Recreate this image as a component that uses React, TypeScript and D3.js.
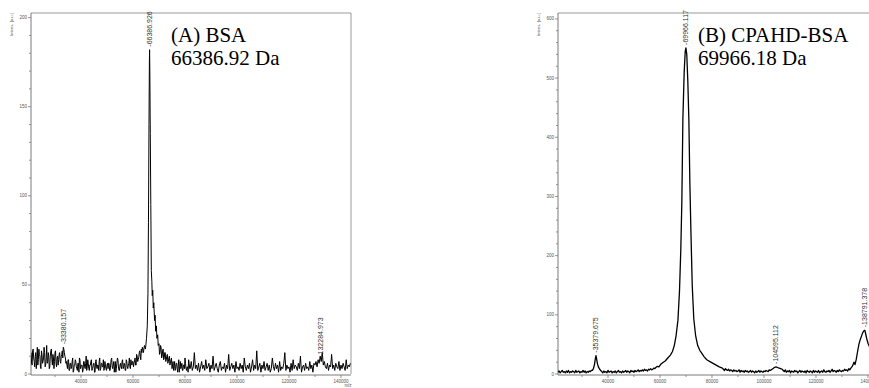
import React from 'react';
import * as d3 from 'd3';

// ---------- Data: (A) BSA ----------
const bsaSampleStart = 20800;
const bsaSampleStep = 400;
// 20800 .. 63600 (noisy baseline, small bump near 33380, rise before main peak)
const bsaBaseline = [
  12, 5, 14, 7, 10, 3, 15, 8, 11, 4, 13, 6, 9, 12, 5, 16, 7, 10, 4, 13, 8, 11, 3, 12, 6, 9, 5, 11, 7, 10, 13, 15, 12, 9,
  7, 3, 8, 2, 6, 4, 9, 2, 5, 7, 3, 6, 1, 8, 4, 5, 2, 7, 3, 10, 4, 6, 2, 5, 8, 3, 6, 1, 7, 4, 5, 2, 9, 3, 6, 4, 2, 7, 3, 5,
  3, 6, 2, 8, 4, 5, 1, 7, 3, 9, 4, 2, 6, 3, 8, 4, 5, 2, 7, 3, 6, 4, 8, 5, 7,
  6, 9, 5, 10, 8, 12, 10, 14, 15,
];
// 21000 .. 63800 (readings between the samples above)
const bsaBaselineMidStart = 21000;
const bsaBaselineMid = [
  6, 13, 9, 4, 12, 8, 5, 14, 10, 3, 11, 7, 15, 4, 9, 6, 12, 3, 10, 14, 5, 9, 7, 13, 4, 10, 8, 12, 6, 11, 9, 14, 10, 6,
  5, 8, 2, 6, 3, 7, 1, 5, 8, 4, 2, 6, 9, 3, 5, 1, 7, 4, 6, 2, 8, 3, 5, 7, 2, 4, 6, 1, 8, 3, 5, 7, 2, 6, 4, 8, 3, 5, 2, 6,
  6, 2, 5, 9, 3, 7, 4, 1, 6, 8, 2, 5, 4, 7, 3, 6, 2, 8, 4, 5, 9, 3, 6, 7, 4,
  8, 5, 11, 7, 9, 13, 8, 12, 14,
];
// main peak (m/z, intensity)
const bsaPeak: [number, number][] = [
  [64000, 12], [64400, 16], [64800, 14], [65200, 20], [65500, 27], [65750, 45], [65950, 85], [66150, 140],
  [66300, 175], [66386.926, 182], [66480, 170], [66650, 135], [66850, 95], [67050, 58], [67250, 52], [67400, 44],
  [67600, 47], [67800, 37], [68000, 40], [68300, 30], [68500, 33], [68700, 24], [69000, 27], [69200, 20], [69500, 22], [69700, 16],
];
const bsaTailStart = 70000;
// 70000 .. 143600
const bsaTail = [
  17, 12, 15, 10, 14, 9, 12, 8, 11, 7, 10, 6, 9,
  5, 2, 7, 3, 6, 1, 8, 4, 3, 6,
  2, 5, 9, 3, 4, 1, 6, 3, 7, 2,
  4, 12, 3, 5, 2, 6, 1, 4, 7, 3,
  5, 2, 8, 3, 4, 6, 1, 5, 3, 10,
  2, 4, 6, 3, 1, 5, 7, 2, 4, 3,
  6, 1, 5, 3, 11, 2, 4, 6, 3, 5,
  1, 7, 3, 4, 2, 6, 3, 5, 1, 9,
  4, 2, 5, 3, 6, 1, 4, 8, 2, 5,
  3, 13, 2, 4, 6, 1, 5, 3, 7, 2,
  4, 6, 2, 5, 1, 3, 9, 4, 2, 6,
  3, 5, 1, 7, 2, 4, 3, 6, 12, 2,
  5, 3, 4, 1, 6, 2, 8, 3, 5, 4,
  2, 6, 3, 10, 1, 4, 5, 2, 6, 3,
  4, 2, 7, 3, 5, 1, 6,
  5, 7, 4, 8, 6, 10, 7, 12, 5, 7, 4,
  3, 6, 2, 5, 4, 11, 3, 5, 2, 6, 4, 3, 7, 2, 5, 3, 6, 4, 2, 8, 3, 5, 4, 6,
];
// 70200 .. 81800 (readings between the tail samples)
const bsaTailMidStart = 70200;
const bsaTailMid = [11, 16, 9, 13, 8, 12, 7, 10, 6, 9, 5, 8, 3, 7, 4, 2, 6, 3, 5, 1, 7, 4, 2, 5, 3, 6, 2, 4, 8, 3];
const bsaLabelMz = [33380.157, 66386.926, 132284.973];
const bsaLabelHeight = [15, 182, 8];

// ---------- Data: (B) CPAHD-BSA ----------
const cpStep = 400;
const cpStartA = 20800;
const cpBaseA = [3, 5, 2, 4, 6, 3, 4, 2, 5, 3, 6, 2, 4, 3, 5, 4, 2, 6, 3, 4, 5, 2, 4, 3, 6, 3, 5, 2, 4, 3, 5, 4, 6];
const cpBump1: [number, number][] = [
  [34000, 6], [34400, 9], [34800, 16], [35100, 25], [35379.675, 31], [35600, 26], [35900, 18], [36300, 12], [36800, 8], [37200, 6],
];
const cpStartB = 37600;
const cpBaseB = [
  4, 2, 5, 3, 4, 2, 6, 3, 4, 5, 2, 4, 3, 5, 2, 4, 6, 3, 4, 2, 5, 3, 4, 6, 3, 5, 4, 2, 6, 4,
  5, 3, 6, 4, 5, 7, 4, 6, 5, 7, 5, 8, 6, 7, 5, 8, 7, 9, 7, 8, 10, 9,
];
const cpMainPeak: [number, number][] = [
  [58400, 11], [59000, 13], [59600, 12], [60200, 16], [61000, 19], [62000, 22], [63000, 27], [64000, 32],
  [64800, 38], [65500, 48], [66200, 65], [66900, 91], [67500, 140], [68000, 210], [68400, 290], [68800, 430],
  [69300, 510], [69700, 545], [69966.117, 551], [70300, 540], [70700, 495], [71100, 430], [71500, 320],
  [71900, 240], [72400, 150], [73000, 93], [73700, 65], [74500, 48], [75300, 40], [76100, 35], [77000, 29],
  [78000, 24], [79200, 21], [80400, 18], [81600, 15], [82800, 12], [84000, 10],
];
const cpStartC = 84400;
const cpBaseC = [
  8, 6, 9, 7, 6, 8, 5, 7, 6, 4, 7, 5, 6, 4, 5, 7, 3, 6, 4, 5, 3, 6, 4, 5, 3, 4, 6, 3, 5, 4,
  2, 5, 3, 4, 6, 3, 5, 4, 3, 5, 4, 6, 5, 4, 7, 6,
];
const cpBump2: [number, number][] = [
  [102800, 7], [103400, 9], [104000, 11], [104595.112, 12], [105200, 11], [105800, 10], [106400, 9], [107000, 8],
];
const cpStartD = 107400;
const cpBaseD = [
  6, 4, 7, 3, 5, 4, 6, 2, 5, 4, 3, 6, 4, 5, 2, 4, 6, 3, 5, 4, 3, 5, 2, 6, 4, 3, 5, 4, 2, 6,
  3, 5, 4, 3, 6, 2, 4, 5, 3, 7, 4, 3, 5, 4, 6, 3, 5, 8, 4, 6, 5, 3, 6, 4, 7, 5, 4, 6, 5, 8,
  6, 7, 5, 9, 7, 10, 12, 15, 20,
];
const cpEndPeak: [number, number][] = [
  [135000, 16], [135500, 25], [136000, 38], [136500, 50], [137000, 58], [137500, 64], [138000, 70],
  [138400, 73], [138791.378, 74], [139100, 68], [139500, 60], [140000, 52], [140500, 47], [141000, 43],
  [142000, 38], [143000, 34], [143800, 31],
];
const cpLabelMz = [35379.675, 69966.117, 104595.112, 138791.378];
const cpLabelHeight = [31, 551, 12, 74];

// ---------- Axis ticks ----------
const xMajorTicks = [40000, 60000, 80000, 100000, 120000, 140000];
const xMinorTicks = [30000, 50000, 70000, 90000, 110000, 130000];

function sampled(start: number, step: number, vals: number[]): [number, number][] {
  return vals.map((v, i) => [start + i * step, v] as [number, number]);
}

const byMz = (a: [number, number], b: [number, number]) => a[0] - b[0];

const bsaSpectrum: [number, number][] = [
  ...sampled(bsaSampleStart, bsaSampleStep, bsaBaseline),
  ...sampled(bsaBaselineMidStart, bsaSampleStep, bsaBaselineMid),
  ...bsaPeak,
  ...sampled(bsaTailStart, bsaSampleStep, bsaTail),
  ...sampled(bsaTailMidStart, bsaSampleStep, bsaTailMid),
].sort(byMz);
const cpSpectrum: [number, number][] = [
  ...sampled(cpStartA, cpStep, cpBaseA),
  ...cpBump1,
  ...sampled(cpStartB, cpStep, cpBaseB),
  ...cpMainPeak,
  ...sampled(cpStartC, cpStep, cpBaseC),
  ...cpBump2,
  ...sampled(cpStartD, cpStep, cpBaseD),
  ...cpEndPeak,
].sort(byMz);

const X_DOMAIN: [number, number] = [20770, 143850];
const TOP = 13;
const BOTTOM = 374;
const PW = 320;

interface PanelDef {
  id: string;
  left: number;
  yTop: number;
  yMajor: number[];
  yMinor: number[];
  data: [number, number][];
  labelMz: number[];
  labelH: number[];
  title: string;
  mass: string;
  titleX: number;
  lineWidth: number;
}

const range = (a: number, b: number, s: number) => d3.range(a, b + 0.001, s);

const panels: PanelDef[] = [
  {
    id: 'A',
    left: 31,
    yTop: 202.6,
    yMajor: range(0, 200, 50),
    yMinor: range(0, 200, 10).filter((v) => v % 50 !== 0),
    data: bsaSpectrum,
    labelMz: bsaLabelMz,
    labelH: bsaLabelHeight,
    title: '(A) BSA',
    mass: '66386.92 Da',
    titleX: 171,
    lineWidth: 1,
  },
  {
    id: 'B',
    left: 558,
    yTop: 610,
    yMajor: range(0, 600, 100),
    yMinor: range(0, 600, 20).filter((v) => v % 100 !== 0),
    data: cpSpectrum,
    labelMz: cpLabelMz,
    labelH: cpLabelHeight,
    title: '(B) CPAHD-BSA',
    mass: '69966.18 Da',
    titleX: 698,
    lineWidth: 1.3,
  },
];

const axisColor = '#7a7a7a';
const tickText = '#555';
const sans = 'Liberation Sans, Arial, sans-serif';

function Panel({ p }: { p: PanelDef }) {
  const x = d3.scaleLinear().domain(X_DOMAIN).range([p.left, p.left + PW]);
  const y = d3.scaleLinear().domain([0, p.yTop]).range([BOTTOM, TOP]);
  const line = d3
    .line<[number, number]>()
    .x((d) => x(d[0]))
    .y((d) => y(d[1]));
  const right = p.left + PW;
  return (
    <g>
      <clipPath id={`clip${p.id}`}>
        <rect x={p.left} y={TOP} width={PW} height={BOTTOM - TOP} />
      </clipPath>
      {/* frame */}
      <line x1={p.left} x2={right} y1={TOP} y2={TOP} stroke="#9a9a9a" strokeWidth={1} />
      <line x1={right} x2={right} y1={TOP} y2={BOTTOM} stroke="#9a9a9a" strokeWidth={1} />
      <line x1={p.left} x2={p.left} y1={TOP} y2={BOTTOM + 1} stroke={axisColor} strokeWidth={1} />
      <line x1={p.left} x2={right} y1={BOTTOM + 1} y2={BOTTOM + 1} stroke={axisColor} strokeWidth={1} />
      {/* y ticks */}
      {p.yMinor.map((v) => (
        <line key={`ym${v}`} x1={p.left - 2} x2={p.left} y1={y(v)} y2={y(v)} stroke={axisColor} strokeWidth={0.8} />
      ))}
      {p.yMajor.map((v) => (
        <g key={`yM${v}`}>
          <line x1={p.left - 3} x2={p.left} y1={y(v)} y2={y(v)} stroke={axisColor} strokeWidth={0.8} />
          <text x={p.left - 4} y={y(v) + 1.5} fontSize={4.5} fill={tickText} textAnchor="end" fontFamily={sans}>
            {v}
          </text>
        </g>
      ))}
      {/* x ticks */}
      {xMinorTicks.map((v) => (
        <line key={`xm${v}`} x1={x(v)} x2={x(v)} y1={BOTTOM + 1} y2={BOTTOM + 3} stroke={axisColor} strokeWidth={0.8} />
      ))}
      {xMajorTicks.map((v) => (
        <g key={`xM${v}`}>
          <line x1={x(v)} x2={x(v)} y1={BOTTOM + 1} y2={BOTTOM + 4} stroke={axisColor} strokeWidth={0.8} />
          <text x={x(v)} y={BOTTOM + 9} fontSize={4.5} fill={tickText} textAnchor="middle" fontFamily={sans}>
            {v}
          </text>
        </g>
      ))}
      <text x={right - 3} y={BOTTOM + 13} fontSize={4.5} fill={tickText} textAnchor="middle" fontFamily={sans}>
        m/z
      </text>
      {/* y label */}
      <text
        transform={`translate(${p.left - 18},${TOP}) rotate(-90)`}
        fontSize={4.2}
        fill={tickText}
        textAnchor="end"
        fontFamily={sans}
      >
        Intens. [a.u.]
      </text>
      {/* spectrum */}
      <path
        d={line(p.data) || ''}
        fill="none"
        stroke="#000"
        strokeWidth={p.lineWidth}
        strokeLinejoin="round"
        clipPath={`url(#clip${p.id})`}
      />
      {/* peak labels */}
      {p.labelMz.map((m, i) => (
        <text
          key={`pl${m}`}
          transform={`translate(${x(m) + 2.3},${y(p.labelH[i]) - 3}) rotate(-90)`}
          fontSize={7}
          fill="#333"
          fontFamily={sans}
        >
          {`-${m.toFixed(3)}`}
        </text>
      ))}
      {/* annotation */}
      <text x={p.titleX} y={41.7} fontSize={21} fontFamily="Liberation Serif, Times New Roman, serif" fill="#000">
        {p.title}
      </text>
      <text x={p.titleX} y={65} fontSize={21} fontFamily="Liberation Serif, Times New Roman, serif" fill="#000">
        {p.mass}
      </text>
    </g>
  );
}

export default function App() {
  return (
    <svg
      width={869}
      height={388}
      viewBox="0 0 869 388"
      style={{ position: 'absolute', left: 0, top: 0, background: '#fff' }}
    >
      <rect x={0} y={0} width={869} height={388} fill="#fff" />
      {panels.map((p) => (
        <Panel key={p.id} p={p} />
      ))}
    </svg>
  );
}
